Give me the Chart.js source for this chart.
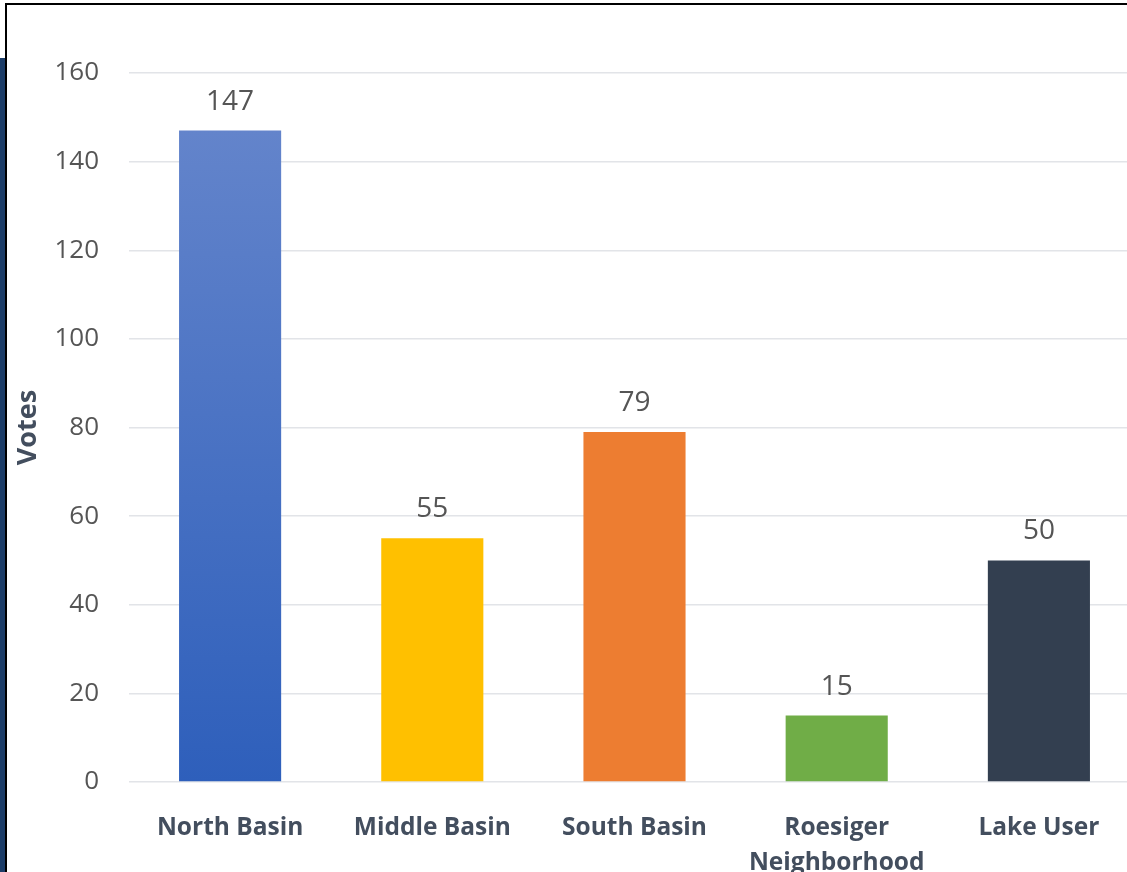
<!DOCTYPE html>
<html>
<head>
<meta charset="utf-8">
<script src="https://cdn.jsdelivr.net/npm/chart.js@4/dist/chart.umd.min.js"></script>
<style>
  html, body { margin: 0; padding: 0; background: #fff; overflow: hidden; }
  body { width: 1127px; height: 872px; position: relative; }
  #wrap { position: absolute; left: 0; top: 0; width: 1141px; height: 872px; }
  .navy { position: absolute; left: 0; top: 58px; width: 5px; height: 814px; background: #1c3d68; }
  .topline { position: absolute; left: 5px; top: 3px; width: 1122px; height: 2px; background: #000; }
  .leftline { position: absolute; left: 5px; top: 3px; width: 2px; height: 869px; background: #000; }
</style>
</head>
<body>
<div id="wrap"><canvas id="chart"></canvas></div>
<div class="navy"></div>
<div class="topline"></div>
<div class="leftline"></div>
<script>
const categories = ['North Basin', 'Middle Basin', 'South Basin', ['Roesiger', 'Neighborhood'], 'Lake User'];
const votes = [147, 55, 79, 15, 50];
const barColors = ['#4472c4', '#ffc000', '#ed7d31', '#70ad47', '#333f50'];
const yTicks = [0, 20, 40, 60, 80, 100, 120, 140, 160];

const font = '"Open Sans", "Liberation Sans", sans-serif';

// blue bar has a vertical gradient like the original
function barFill(ctx) {
  const chart = ctx.chart;
  if (ctx.dataIndex !== 0 || !chart.chartArea) return barColors[ctx.dataIndex];
  const y = chart.scales.y;
  const g = chart.ctx.createLinearGradient(0, y.getPixelForValue(votes[0]), 0, y.getPixelForValue(0));
  g.addColorStop(0, '#6384cb');
  g.addColorStop(1, '#2e5fbb');
  return g;
}

const valueLabels = {
  id: 'valueLabels',
  afterDatasetsDraw(chart) {
    const c = chart.ctx;
    const meta = chart.getDatasetMeta(0);
    c.save();
    c.font = '28px ' + font;
    c.fillStyle = '#555555';
    c.textAlign = 'center';
    c.textBaseline = 'middle';
    meta.data.forEach((bar, i) => {
      c.fillText(String(votes[i]), bar.x, bar.y - 29);
    });
    c.restore();
  }
};

new Chart(document.getElementById('chart'), {
  type: 'bar',
  data: {
    labels: categories,
    datasets: [{
      data: votes,
      backgroundColor: barFill,
      borderWidth: 0,
      categoryPercentage: 1,
      barPercentage: 0.505
    }]
  },
  options: {
    responsive: true,
    maintainAspectRatio: false,
    animation: false,
    layout: { padding: { top: 73, right: 1, bottom: 0, left: 0 } },
    plugins: { legend: { display: false }, tooltip: { enabled: false } },
    scales: {
      x: {
        grid: { display: false },
        border: { display: false },
        ticks: {
          color: '#434e5e',
          font: { family: font, size: 24.5, weight: 'bold', lineHeight: 1.45 },
          padding: 20,
          maxRotation: 0,
          autoSkip: false
        },
        afterFit(scale) { scale.height = 90; }
      },
      y: {
        min: 0,
        max: 160,
        afterBuildTicks(scale) { scale.ticks = yTicks.map(v => ({ value: v })); },
        grid: { color: '#e2e4e8', lineWidth: 1.5, drawTicks: false },
        border: { display: false },
        ticks: {
          color: '#555555',
          font: { family: font, size: 26 },
          padding: 30
        },
        title: {
          display: true,
          text: 'Votes',
          color: '#434e5e',
          font: { family: font, size: 27, weight: 'bold' },
          padding: { top: 12, bottom: 0 }
        },
        afterFit(scale) { scale.width = 129; }
      }
    }
  },
  plugins: [valueLabels]
});
</script>
</body>
</html>
